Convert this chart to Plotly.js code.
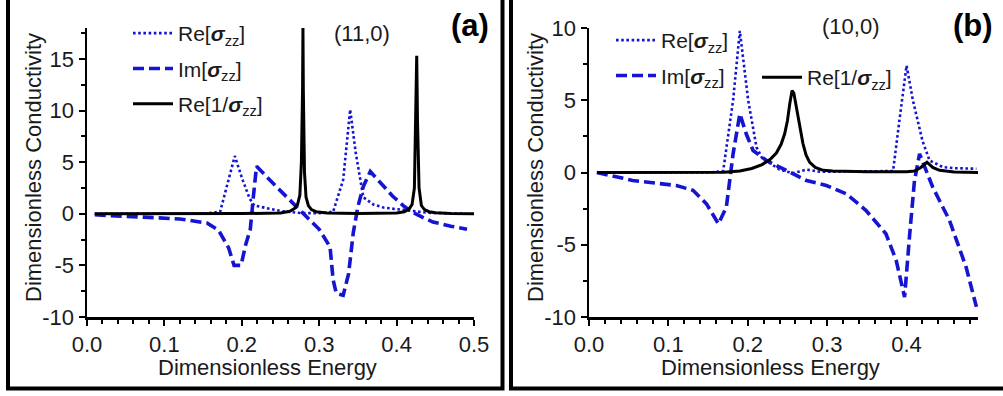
<!DOCTYPE html>
<html>
<head>
<meta charset="utf-8">
<script src="https://cdn.plot.ly/plotly-3.0.1.min.js"></script>
<style>
html,body{margin:0;padding:0;background:#fff;}
#chart{width:1003px;height:396px;}
</style>
</head>
<body>
<div id="chart"></div>
<script>
// ---------- Panel (a): (11,0) ----------
const aReX  = [0.01, 0.05, 0.10, 0.15, 0.172, 0.181, 0.191, 0.200, 0.210, 0.216, 0.232, 0.253, 0.275, 0.300, 0.318, 0.331, 0.340, 0.347, 0.357, 0.370, 0.383, 0.413, 0.44, 0.47, 0.49];
const aReY  = [0, 0, 0, 0, 0.2, 2.8, 5.6, 3.5, 1.5, 0.8, 0.55, 0.23, 0.08, 0.05, 0.2, 3.3, 10.1, 6.0, 1.6, 0.9, 0.6, 0.35, 0.1, 0.05, 0];

const aImX  = [0.01, 0.05, 0.08, 0.12, 0.155, 0.17, 0.183, 0.190, 0.199, 0.205, 0.211, 0.215, 0.219, 0.245, 0.271, 0.288, 0.300, 0.314, 0.318, 0.322, 0.331, 0.338, 0.344, 0.350, 0.357, 0.366, 0.380, 0.395, 0.410, 0.422, 0.435, 0.447, 0.47, 0.491];
const aImY  = [-0.1, -0.2, -0.35, -0.5, -0.9, -1.6, -3.3, -5.0, -5.0, -3.0, -1.5, 1.7, 4.6, 2.6, 0.7, -0.6, -1.5, -3.2, -6.4, -7.7, -7.9, -5.8, -1.85, 0.7, 2.65, 4.1, 3.0, 1.7, 0.7, 0.1, -0.4, -0.8, -1.2, -1.5];

const aInvX = [0.01, 0.10, 0.20, 0.25, 0.262, 0.268, 0.272, 0.275, 0.277, 0.2785, 0.279, 0.2795, 0.281, 0.283, 0.286, 0.290, 0.296, 0.31, 0.35, 0.40, 0.41, 0.416, 0.42, 0.423, 0.425, 0.426, 0.427, 0.429, 0.432, 0.436, 0.442, 0.45, 0.47, 0.50];
const aInvY = [0, 0, 0.02, 0.08, 0.25, 0.5, 0.9, 1.8, 5, 12, 18, 12, 4, 1.6, 0.8, 0.4, 0.2, 0.08, 0.02, 0.08, 0.2, 0.45, 0.9, 2.5, 9, 15.3, 9, 2.5, 0.8, 0.4, 0.2, 0.1, 0.03, 0];

// ---------- Panel (b): (10,0) ----------
const bReX  = [0.01, 0.05, 0.10, 0.15, 0.169, 0.175, 0.1815, 0.190, 0.2005, 0.211, 0.219, 0.224, 0.240, 0.257, 0.274, 0.291, 0.32, 0.35, 0.383, 0.391, 0.400, 0.408, 0.420, 0.429, 0.446, 0.46, 0.488];
const bReY  = [0, 0, 0, 0, 0.1, 2.5, 5.0, 9.8, 5.0, 1.75, 0.9, 0.8, 0.2, -0.05, 0.2, 0.05, 0.05, 0.05, 0.1, 3.6, 7.4, 5.0, 2.2, 0.83, 0.37, 0.3, 0.26];

const bImX  = [0.01, 0.055, 0.11, 0.131, 0.148, 0.163, 0.173, 0.1815, 0.190, 0.198, 0.2067, 0.2235, 0.2486, 0.274, 0.299, 0.324, 0.349, 0.374, 0.387, 0.3975, 0.404, 0.410, 0.4164, 0.433, 0.454, 0.475, 0.488];
const bImY  = [0, -0.55, -0.9, -1.23, -2.17, -3.55, -2.4, 1.29, 4.06, 2.68, 1.52, 0.83, 0.14, -0.55, -0.9, -1.47, -2.63, -4.24, -6.09, -8.63, -4.24, -0.55, 1.29, -1.02, -3.3, -6.55, -9.3];

const bInvX = [0.01, 0.10, 0.17, 0.19, 0.205, 0.218, 0.228, 0.236, 0.242, 0.2465, 0.250, 0.253, 0.2558, 0.258, 0.261, 0.2654, 0.2695, 0.2735, 0.278, 0.285, 0.295, 0.307, 0.35, 0.40, 0.41, 0.418, 0.4257, 0.433, 0.4415, 0.46, 0.49];
const bInvY = [0, 0, 0.02, 0.1, 0.28, 0.55, 0.9, 1.35, 1.95, 2.68, 3.6, 4.8, 5.67, 5.5, 4.6, 3.2, 2.0, 1.2, 0.7, 0.35, 0.15, 0.1, 0.05, 0.05, 0.1, 0.35, 0.71, 0.35, 0.15, 0.03, 0];

// ---------- Tick labels / names ----------
const aYTickVals = [-10, -5, 0, 5, 10, 15];
const aYTickText = ['-10', '-5', '0', '5', '10', '15'];
const bYTickVals = [-10, -5, 0, 5, 10];
const bYTickText = ['-10', '-5', '0', '5', '10'];
const aXTickVals = [0.0, 0.1, 0.2, 0.3, 0.4, 0.5];
const bXTickVals = [0.0, 0.1, 0.2, 0.3, 0.4];
const xTitle = 'Dimensionless Energy';
const yTitle = 'Dimensionless Conductivity';
const nameRe  = 'Re[<b><i>σ</i></b><sub>zz</sub>]';
const nameIm  = 'Im[<b><i>σ</i></b><sub>zz</sub>]';
const nameInv = 'Re[1/<b><i>σ</i></b><sub>zz</sub>]';

const BLUE = '#1414d2';
const FONT = 'Arial, "Liberation Sans", sans-serif';
const TXT = '#1a1a1a';

const dotLine  = {color: BLUE, width: 2.6, dash: '2.6px,2.6px'};
const dashLine = {color: BLUE, width: 3.6, dash: '11px,5px'};
const solidLine = {color: '#000', width: 3};

const traces = [
  {x: aReX, y: aReY, name: nameRe, mode: 'lines', line: dotLine, xaxis: 'x', yaxis: 'y', legend: 'legend', legendgroup: 'a1'},
  {x: aImX, y: aImY, name: nameIm, mode: 'lines', line: dashLine, xaxis: 'x', yaxis: 'y', legend: 'legend', legendgroup: 'a2'},
  {x: aInvX, y: aInvY, name: nameInv, mode: 'lines', line: solidLine, xaxis: 'x', yaxis: 'y', legend: 'legend', legendgroup: 'a3'},
  {x: bReX, y: bReY, name: nameRe, mode: 'lines', line: dotLine, xaxis: 'x2', yaxis: 'y2', legend: 'legend2', legendgroup: 'b1'},
  {x: bImX, y: bImY, name: nameIm, mode: 'lines', line: dashLine, xaxis: 'x2', yaxis: 'y2', legend: 'legend2', legendgroup: 'b2'},
  {x: bInvX, y: bInvY, name: nameInv, mode: 'lines', line: solidLine, xaxis: 'x2', yaxis: 'y2', legend: 'legend3', legendgroup: 'b3'}
];

const W = 1003, H = 396;
const px = v => v / W;
const py = v => 1 - v / H;

function xAxis(domain, range, tickvals, anchor) {
  return {
    domain: domain, range: range, anchor: anchor,
    tickvals: tickvals, tickformat: '.1f',
    ticks: 'outside', ticklen: 6, tickwidth: 2, tickcolor: '#000',
    minor: {dtick: 0.02, tick0: 0, ticks: 'outside', ticklen: 4, tickwidth: 2, tickcolor: '#000'},
    showline: true, linewidth: 2.5, linecolor: '#000', mirror: false,
    showgrid: false, zeroline: false,
    tickfont: {family: FONT, size: 22, color: TXT},
    automargin: false, fixedrange: true
  };
}
function yAxis(domain, range, tickvals, ticktext, anchor) {
  return {
    domain: domain, range: range, anchor: anchor,
    tickvals: tickvals, ticktext: ticktext,
    ticks: 'outside', ticklen: 6, tickwidth: 2, tickcolor: '#000',
    minor: {dtick: 2.5, tick0: 0, ticks: 'outside', ticklen: 4, tickwidth: 2, tickcolor: '#000'},
    showline: true, linewidth: 2.5, linecolor: '#000', mirror: false,
    showgrid: false, zeroline: false,
    tickfont: {family: FONT, size: 22, color: TXT},
    automargin: false, fixedrange: true
  };
}

const yDom = [py(317), py(28)];

const legendBase = {
  xref: 'paper', yref: 'paper', xanchor: 'left', yanchor: 'top',
  bgcolor: 'rgba(0,0,0,0)', borderwidth: 0,
  font: {family: FONT, size: 21, color: TXT},
  traceorder: 'grouped', tracegroupgap: 5, itemwidth: 40
};

function label(x, y, text, size, extra) {
  return Object.assign({xref: 'paper', yref: 'paper', x: px(x), y: py(y), text: text, showarrow: false,
    xanchor: 'center', yanchor: 'middle', font: {family: FONT, size: size, color: TXT}}, extra || {});
}

const layout = {
  width: W, height: H,
  margin: {l: 0, r: 0, t: 0, b: 0},
  paper_bgcolor: '#fff', plot_bgcolor: '#fff',
  showlegend: true,
  xaxis: xAxis([px(87), px(474)], [0, 0.5], aXTickVals, 'y'),
  yaxis: yAxis(yDom, [-10, 18], aYTickVals, aYTickText, 'x'),
  xaxis2: xAxis([px(589), px(978)], [0, 0.49], bXTickVals, 'y2'),
  yaxis2: yAxis(yDom, [-10, 10], bYTickVals, bYTickText, 'x2'),
  legend: Object.assign({}, legendBase, {x: px(128), y: py(13)}),
  legend2: Object.assign({}, legendBase, {x: px(611), y: py(20)}),
  legend3: Object.assign({}, legendBase, {x: px(757), y: py(57)}),
  annotations: [
    label(267, 367, xTitle, 22),
    label(770, 367, xTitle, 22),
    label(33, 168, yTitle, 22, {textangle: -90}),
    label(535, 168, yTitle, 22, {textangle: -90}),
    label(362, 33, '(11,0)', 22),
    label(470, 25, '<b>(a)</b>', 31, {font: {family: FONT, size: 31, color: '#000'}}),
    label(850, 27, '(10,0)', 22),
    label(973, 25, '<b>(b)</b>', 31, {font: {family: FONT, size: 31, color: '#000'}})
  ],
  shapes: [
    {type: 'rect', xref: 'paper', yref: 'paper', x0: px(8), x1: px(502.5), y0: py(388.5), y1: py(-4),
     line: {color: '#000', width: 4}, fillcolor: 'rgba(0,0,0,0)'},
    {type: 'rect', xref: 'paper', yref: 'paper', x0: px(511), x1: px(1010), y0: py(388.5), y1: py(-4),
     line: {color: '#000', width: 4}, fillcolor: 'rgba(0,0,0,0)'}
  ]
};

Plotly.newPlot('chart', traces, layout, {staticPlot: true, displayModeBar: false});
</script>
</body>
</html>
